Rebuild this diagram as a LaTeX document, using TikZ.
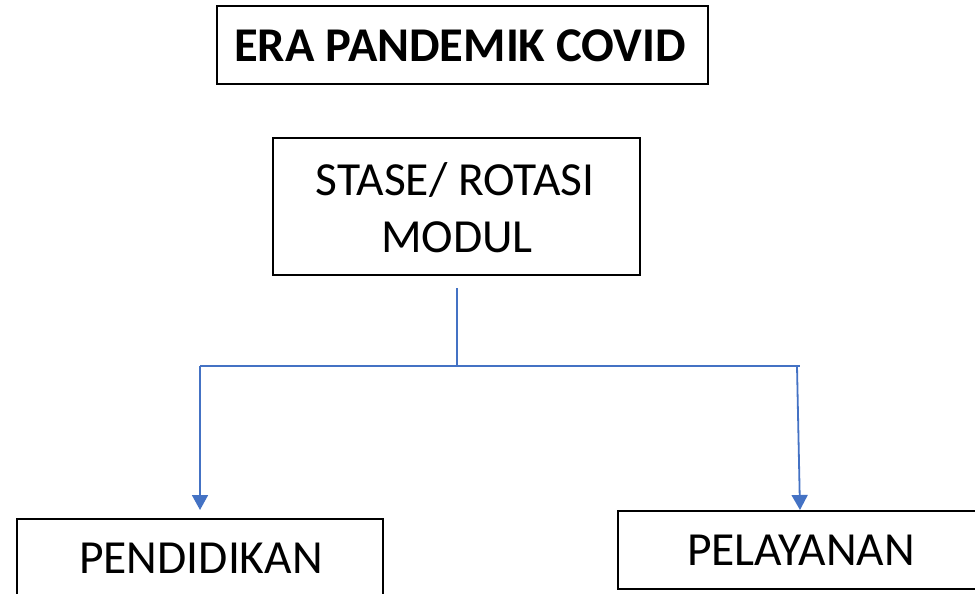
\documentclass[tikz,border=0pt]{standalone}
\usepackage{fontspec}
\setmainfont{Carlito}
\usetikzlibrary{arrows.meta}
\definecolor{linkblue}{HTML}{4472C4}
\tikzset{
  box/.style={draw=black, line width=2.2pt, inner sep=0pt},
  lbl/.style={anchor=base, inner sep=0pt, font=\fontsize{47.5}{56}\selectfont},
  link/.style={draw=linkblue, line width=1.8pt},
  tip/.style={-{Triangle[width=16pt,length=15pt]}}
}
\begin{document}
\begin{tikzpicture}[x=1pt,y=-1pt]
\useasboundingbox (0,0) rectangle (975,594);
\clip (0,0) rectangle (975,594);
% boxes
\node[box, minimum width=491pt, minimum height=78pt] (era) at (462.5,45) {};
\node[box, minimum width=367pt, minimum height=137pt] (stase) at (456.5,206.5) {};
\node[box, minimum width=366pt, minimum height=130pt] (pend) at (200,584) {};
\node[box, minimum width=370pt, minimum height=78pt] (pel) at (803,550) {};
% texts
\node[lbl, font=\bfseries\fontsize{48.5}{56}\selectfont] (eratxt) at (460,62) {ERA PANDEMIK COVID};
\node[lbl] (st1) at (455,195) {STASE/ ROTASI};
\node[lbl] (st2) at (457,252) {MODUL};
\node[lbl] (pendtxt) at (201,573) {PENDIDIKAN};
\node[lbl] (peltxt) at (801,565) {PELAYANAN};
% connectors
\coordinate (src) at (457,288);
\coordinate (hub) at (457,366);
\coordinate (lj) at (200,366);
\coordinate (rj) at (797,366);
\coordinate (le) at (800,366);
\coordinate (ltip) at (200,510);
\coordinate (rtip) at (800,510);
\draw[link, line width=1.3pt] (src) -- (hub);
\draw[link, line width=1.4pt] (lj) -- (le);
\draw[link, tip] (lj) -- (ltip);
\draw[link, tip] (rj) -- (rtip);
\end{tikzpicture}
\end{document}
